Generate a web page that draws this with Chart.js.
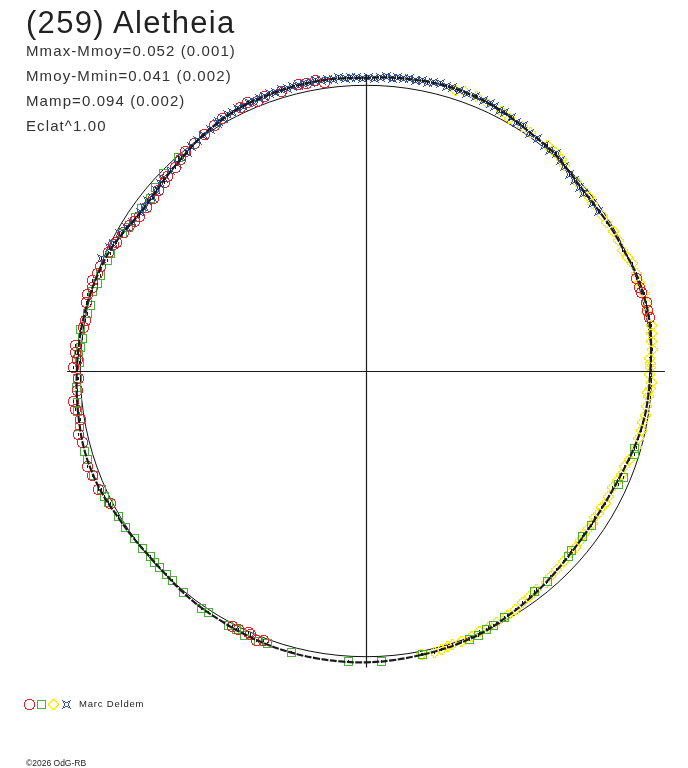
<!DOCTYPE html>
<html><head><meta charset="utf-8">
<script src="https://cdn.jsdelivr.net/npm/chart.js@4.4.0/dist/chart.umd.min.js"></script>
<style>
html,body{margin:0;padding:0;background:#fff;}
#wrap{position:relative;width:688px;height:768px;overflow:hidden;font-family:"Liberation Sans",Arial,sans-serif;}
#c{position:absolute;left:0;top:0;}
.t{position:absolute;white-space:nowrap;color:#222;}
#title{left:26px;top:7px;font-size:31px;line-height:31px;letter-spacing:1.3px;}
#stats{left:26px;top:38px;font-size:15px;line-height:25px;letter-spacing:1.1px;color:#333;}
#author{left:79px;top:699px;font-size:9.5px;line-height:9.5px;letter-spacing:0.8px;}
#copy{left:26px;top:759px;font-size:8.5px;line-height:8.5px;}
.ic{position:absolute;}
</style></head>
<body>
<div id="wrap">
<canvas id="c" width="688" height="768"></canvas>
<div class="t" id="title">(259) Aletheia</div>
<div class="t" id="stats">Mmax-Mmoy=0.052 (0.001)<br>Mmoy-Mmin=0.041 (0.002)<br>Mamp=0.094 (0.002)<br>Eclat^1.00</div>
<div class="t" id="author">Marc Deldem</div>
<div class="t" id="copy">©2026 OdG-RB</div>
</div>
<script>
// ---- data: rotation angle (deg) and magnitude relative to mean (mag) ----
const FIT_ANGLE = [0,5,10,15,20,25,30,35,40,45,50,55,60,65,70,75,80,85,90,95,100,105,110,115,120,125,130,135,140,145,150,155,160,165,170,175,180,185,190,195,200,205,210,215,220,225,230,235,240,245,250,255,260,265,270,275,280,285,290,295,300,305,310,315,320,325,330,335,340,345,350,355];
const FIT_DMAG = [0.005,-0.002,-0.008,-0.008,-0.005,0.004,0.007,0.012,0.012,0.003,-0.009,-0.013,-0.023,-0.032,-0.037,-0.039,-0.036,-0.033,-0.028,-0.030,-0.031,-0.029,-0.027,-0.024,-0.015,-0.003,0.013,0.026,0.037,0.039,0.025,0.010,0.003,-0.003,-0.007,-0.010,-0.013,-0.017,-0.021,-0.025,-0.024,-0.019,-0.009,-0.003,0.002,0.001,-0.005,-0.010,-0.012,-0.016,-0.019,-0.021,-0.022,-0.022,-0.021,-0.018,-0.014,-0.011,-0.007,-0.001,0.010,0.020,0.030,0.040,0.047,0.050,0.050,0.045,0.036,0.024,0.014,0.009];

const RED_ANGLE = [98.1,99.9,101.6,103.3,106.8,110.2,111.9,113.9,115.5,119.6,121.7,124.3,127.1,129.4,131.2,133.1,135.7,136.9,139,141,143.3,145.7,147.2,148.5,150.2,152.7,153.5,155.4,158.6,160,161.6,163,164.7,166.3,169.7,171.2,174.9,176.3,177.8,179.4,181.4,183.8,186,187.6,189.7,192.5,194.2,199,200.8,203.9,207.3,242.4,243.7,245.8,246.3,248,249.1,10.6,12.2,13.8,15.8,17,18.9];
const RED_DMAG = [-0.022,-0.036,-0.030,-0.034,-0.024,-0.026,-0.018,-0.030,-0.024,-0.016,-0.012,-0.004,0.004,0.008,0.018,0.026,0.030,0.040,0.042,0.047,0.044,0.043,0.038,0.030,0.024,0.020,0.012,0.008,0.002,-0.002,-0.008,-0.003,-0.010,-0.006,0.002,-0.002,-0.024,-0.021,-0.012,-0.027,-0.008,-0.014,-0.033,-0.029,-0.016,-0.034,-0.027,-0.034,-0.027,-0.027,-0.008,-0.011,-0.011,-0.005,-0.009,-0.020,-0.011,-0.011,-0.010,-0.013,-0.003,-0.002,-0.002];

const GREEN_ANGLE = [131.3,135.7,138.9,141.3,144,146.3,148.8,150.5,155.3,156.8,160.2,161.9,163.9,166.6,168.3,171.8,173.4,175.2,176.8,178.4,181.4,183.2,186.3,187.9,191,196,197.7,200.9,204.2,205.7,207.1,210.5,213,216,218.5,220.7,222.2,223.6,225.6,227.3,230.5,235.2,237,241.7,243.5,245.3,248.3,250.1,255.1,266.5,273,281.2,291.1,293,295,296.5,299.4,307.4,310.8,317.4,319,322.6,325.7,335.9,337.5,342.7,344];
const GREEN_DMAG = [0.005,0.009,0.023,0.035,0.034,0.032,0.030,0.022,0.016,0.016,0.012,0.011,0.003,0.008,0.004,-0.011,0.000,-0.004,-0.009,-0.004,-0.012,-0.017,-0.018,-0.022,-0.024,-0.028,-0.026,-0.023,-0.017,-0.018,-0.014,-0.007,-0.004,0.000,0.002,0.004,0.000,0.001,0.001,0.000,-0.006,-0.011,-0.010,-0.013,-0.013,-0.022,-0.022,-0.017,-0.022,-0.021,-0.021,-0.013,-0.009,-0.005,0.000,0.004,0.010,0.030,0.028,0.043,0.050,0.049,0.048,0.034,0.025,0.016,0.024];

const YELLOW_ANGLE = [72.4,70.6,68.1,65.8,62.5,60.4,57.5,55.5,51.2,49,47.2,46,42,39.5,37.8,36.5,33.3,31.7,29.5,27.3,25.2,23.5,22,19.9,18,15.6,13.5,11.7,9.1,7.5,5.8,4.2,2.6,1.5,0.8,359.2,357.6,356.5,355.7,354.8,352.7,351,349.4,347.9,346,344.3,341.5,339.7,337.9,336.5,334.8,332.5,331,329.8,328.5,327.3,326,324.6,323,321.7,320,318.3,316,313.8,312,310.5,308,306,304.1,302,300,297.5,295.5,293.6,291.7,289.5,287.6,286.5,285.2,283.7,281];
const YELLOW_DMAG = [-0.033,-0.040,-0.039,-0.034,-0.025,-0.019,-0.018,-0.015,-0.015,-0.012,-0.010,-0.002,0.010,0.012,0.009,0.014,0.011,0.010,0.006,0.006,0.008,0.004,-0.008,-0.008,-0.006,-0.014,-0.010,-0.003,-0.014,-0.008,-0.006,-0.007,0.006,0.006,0.004,0.008,-0.001,0.004,0.012,0.007,0.010,0.012,0.016,0.014,0.020,0.017,0.030,0.040,0.037,0.044,0.050,0.050,0.047,0.052,0.050,0.054,0.049,0.052,0.053,0.050,0.046,0.048,0.044,0.039,0.036,0.027,0.031,0.026,0.022,0.016,0.013,0.008,0.004,0.005,-0.001,-0.004,-0.006,-0.008,-0.012,-0.016,-0.012];

const BLUE_ANGLE = [34.4,36.5,39.3,40.7,42.4,43.9,45.8,47.2,48.8,50.2,51.6,53.5,55.4,57.4,58.8,60.2,61.8,62.8,64,65.1,66.6,68.3,70.1,71.5,73.0,74.2,75.5,76.8,78.0,79.1,80.3,81.5,82.6,83.8,84.9,86.1,87.2,88.4,89.5,90.7,91.8,93.0,94.1,95.3,96.4,97.6,98.7,99.9,101.0,102.2,103.3,104.5,105.6,106.8,108.0,109.1,110.3,111.4,112.6,113.7,114.9,116.0,117.2,118.3,119.5,120.6,121,122.8,124.6,126.2,127.8,129.3,130.8,132.3,134.3,136.4,137.6,139.2,140.9,142,143.5,145,147.5,149,150.9,153.2,154.3,157];
const BLUE_DMAG = [0.016,0.015,0.018,0.014,0.011,0.010,0.003,-0.004,-0.013,-0.006,-0.009,-0.013,-0.011,-0.022,-0.020,-0.024,-0.030,-0.027,-0.031,-0.033,-0.035,-0.037,-0.036,-0.039,-0.040,-0.036,-0.041,-0.038,-0.035,-0.039,-0.034,-0.037,-0.033,-0.036,-0.031,-0.034,-0.030,-0.027,-0.029,-0.025,-0.028,-0.031,-0.027,-0.032,-0.029,-0.033,-0.030,-0.034,-0.029,-0.032,-0.028,-0.031,-0.027,-0.030,-0.026,-0.029,-0.025,-0.028,-0.024,-0.027,-0.022,-0.025,-0.020,-0.022,-0.016,-0.014,-0.013,-0.008,-0.003,-0.001,0.006,0.012,0.015,0.019,0.022,0.025,0.029,0.034,0.039,0.033,0.040,0.039,0.035,0.026,0.012,0.010,0.006,-0.006];

// ---- styling ----
const AXIS_LIMIT = 1.05;      // scale half-range in units of the reference circle
const CROSS_X = 1.046, CROSS_Y = 1.038;
const C_RED = '#e8202a', C_GREEN = '#4caf3c', C_YELLOW = '#fde800', C_BLUE = '#2f4fa3';

function toXY(angles, dmags){
  return angles.map((a,i)=>{
    const rho = Math.pow(10, -0.4*dmags[i]);
    const t = a*Math.PI/180;
    return {x: rho*Math.cos(t), y: rho*Math.sin(t)};
  });
}

// pixel-art markers (crisp 1px outlines)
function makeMarker(kind, tick){
  const s = (kind==='circle'||kind==='diamond') ? 13 : 11;
  const c = document.createElement('canvas');
  c.width = s; c.height = s;
  const g = c.getContext('2d');
  const m = Math.floor(s/2);
  const px = (x,y)=>g.fillRect(x,y,1,1);
  if(kind==='circle'){ g.fillStyle=C_RED;
    for(let i=0;i<s;i++)for(let j=0;j<s;j++){const d=Math.hypot(i-m,j-m); if(Math.abs(d-5.2)<0.55) px(i,j);} }
  if(kind==='square'){ g.strokeStyle=C_GREEN; g.lineWidth=1; g.strokeRect(1.5,1.5,8,8); }
  if(kind==='diamond'){ g.fillStyle=C_YELLOW;
    for(let i=0;i<s;i++)for(let j=0;j<s;j++){ const dx=Math.abs(i-m), dy=Math.abs(j-m), k=dx+dy;
      if(k===5 || (k===6 && dx>0 && dy>0 && dx%2===1)) px(i,j);} }
  if(kind==='star'){ g.fillStyle=C_BLUE; const o=1;
    const edge=[[1,1],[2,1],[3,2],[4,2],[5,2],[6,1],[7,1]];
    edge.forEach(([x,y])=>{px(x+o,y+o);px(x+o,8-y+o);px(y+o,x+o);px(8-y+o,x+o);});
    [[0,0],[8,0],[0,8],[8,8]].forEach(([x,y])=>px(x+o,y+o)); }
  if(tick){ g.fillStyle='#111'; g.fillRect(m, m-1, 1, 3); }
  return c;
}

const mRed = makeMarker('circle', true), mGreen = makeMarker('square', true),
      mYellow = makeMarker('diamond', true), mBlue = makeMarker('star', true);

// legend icons
[['circle',29.5],['square',41.5],['diamond',53.5],['star',66.5]].forEach(([k,cx])=>{
  const ic = makeMarker(k, false);
  ic.className = 'ic';
  ic.style.left = Math.round(cx - ic.width/2) + 'px';
  ic.style.top = Math.round(704.5 - ic.height/2) + 'px';
  document.getElementById('wrap').appendChild(ic);
});

const fitPts = toXY(FIT_ANGLE, FIT_DMAG);
fitPts.push(fitPts[0]);

const refPlugin = {
  id:'ref',
  beforeDatasetsDraw(chart){
    const xs = chart.scales.x, ys = chart.scales.y, g = chart.ctx;
    const cx = xs.getPixelForValue(0), cy = ys.getPixelForValue(0);
    const r = xs.getPixelForValue(1) - cx;
    g.save(); g.strokeStyle='#111'; g.lineWidth=1;
    g.beginPath(); g.arc(cx, cy, r, 0, 2*Math.PI); g.stroke(); g.restore();
    g.imageSmoothingEnabled = false;
  },
  afterDatasetsDraw(chart){
    const xs = chart.scales.x, ys = chart.scales.y, g = chart.ctx;
    g.imageSmoothingEnabled = true;
    const cx = Math.round(xs.getPixelForValue(0))+0.5, cy = Math.round(ys.getPixelForValue(0))+0.5;
    g.save(); g.strokeStyle='#1a1a1a'; g.lineWidth=1.2;
    g.beginPath();
    g.moveTo(xs.getPixelForValue(-CROSS_X), cy); g.lineTo(xs.getPixelForValue(CROSS_X), cy);
    g.moveTo(cx, ys.getPixelForValue(CROSS_Y)); g.lineTo(cx, ys.getPixelForValue(-CROSS_Y));
    g.stroke(); g.restore();
  }
};

new Chart(document.getElementById('c'), {
  type:'scatter',
  data:{datasets:[
    {label:'fit', data:fitPts, showLine:true, pointRadius:0, borderColor:'#1c1c1c', borderWidth:2.2, borderDash:[7,1.5], tension:0.4, fill:false, order:0},
    {label:'4', data:toXY(BLUE_ANGLE, BLUE_DMAG), pointStyle:mBlue, pointRadius:5, order:1},
    {label:'1', data:toXY(RED_ANGLE, RED_DMAG), pointStyle:mRed, pointRadius:5, order:2},
    {label:'2', data:toXY(GREEN_ANGLE, GREEN_DMAG), pointStyle:mGreen, pointRadius:5, order:3},
    {label:'3', data:toXY(YELLOW_ANGLE, YELLOW_DMAG), pointStyle:mYellow, pointRadius:5, order:4}
  ]},
  options:{
    responsive:false, animation:false, devicePixelRatio:1, events:[],
    layout:{padding:{left:66, right:22, top:71, bottom:97}},
    scales:{
      x:{type:'linear', min:-AXIS_LIMIT, max:AXIS_LIMIT, display:false},
      y:{type:'linear', min:-AXIS_LIMIT, max:AXIS_LIMIT, display:false}
    },
    plugins:{legend:{display:false}, tooltip:{enabled:false}}
  },
  plugins:[refPlugin]
});
</script>
</body></html>
